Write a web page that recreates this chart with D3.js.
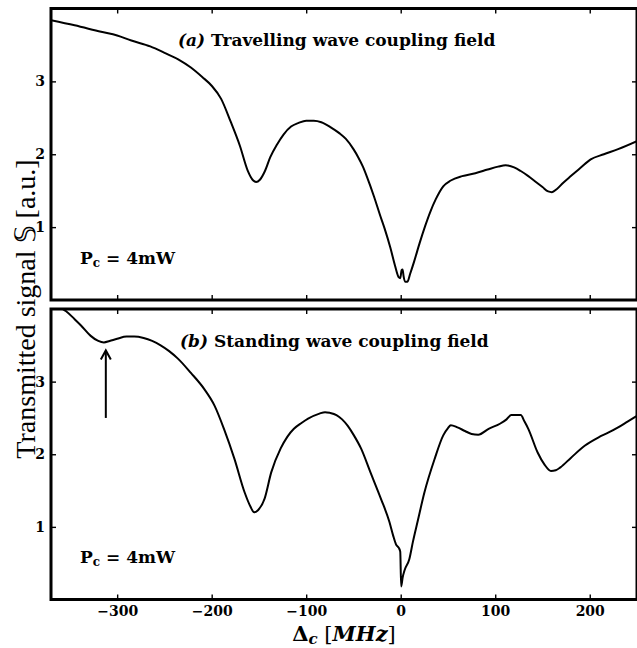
<!DOCTYPE html>
<html>
<head>
<meta charset="utf-8">
<script src="https://cdn.jsdelivr.net/npm/d3@7/dist/d3.min.js"></script>
<style>
  html, body { margin: 0; padding: 0; background: #fff; }
  svg { display: block; }
</style>
</head>
<body>
<svg id="chart" width="637" height="648"></svg>
<script>
// ---- Data ----
const xTicks = [-300, -200, -100, 0, 100, 200];
const yTicks = [1, 2, 3];
const xDomain = [-370, 250];
const yDomain = [0, 4];

// (a) travelling wave coupling field
const travX = [-370,-345,-317,-300,-285,-265,-248,-235,-222,-210,-200,-190,-180,-170,-162,-156,-153,-149,-144,-138,-131,-124,-116,-108,-100,-92,-84,-74,-65,-58,-50,-45,-40,-36,-28,-22,-17,-11,-6,-2,-0.5,1,2,3,5,7,10,14,20,26,31,37,45,53,65,79,92,103,111,120,127,135,142,150,156,160,165,172,180,190,201,215,230,250];
const travY = [3.84,3.77,3.68,3.63,3.56,3.48,3.38,3.30,3.19,3.06,2.94,2.76,2.45,2.11,1.78,1.64,1.62,1.65,1.76,1.96,2.13,2.27,2.38,2.43,2.46,2.46,2.44,2.37,2.29,2.21,2.07,1.96,1.83,1.70,1.41,1.17,0.98,0.72,0.47,0.31,0.30,0.41,0.42,0.33,0.25,0.25,0.36,0.52,0.78,1.02,1.20,1.38,1.56,1.64,1.70,1.74,1.79,1.83,1.85,1.82,1.77,1.70,1.63,1.55,1.49,1.48,1.52,1.61,1.70,1.81,1.93,2.00,2.07,2.18];

// (b) standing wave coupling field
const standX = [-370,-360,-354,-345,-338,-328,-320,-314,-308,-300,-290,-282,-272,-263,-254,-245,-236,-222,-208,-197,-187,-176,-165,-159,-155,-151,-144,-137,-127,-120,-113,-105,-98,-86,-80,-75,-68,-62,-56,-50,-42,-32,-21,-12,-8,-5,-2,-0.5,0.5,2,4,9,13,18,25,36,45,50,53,60,68,75,82,93,105,112,117,122,127,131,135,145,152,159,164,169,180,195,209,220,230,240,250];
const standY = [4.12,4.02,3.97,3.86,3.77,3.63,3.56,3.54,3.56,3.59,3.62,3.62,3.60,3.56,3.50,3.42,3.32,3.12,2.90,2.67,2.35,1.94,1.47,1.28,1.20,1.23,1.39,1.75,2.08,2.24,2.35,2.43,2.49,2.56,2.58,2.57,2.54,2.48,2.39,2.27,2.08,1.75,1.39,1.07,0.88,0.76,0.71,0.66,0.18,0.30,0.40,0.55,0.80,1.08,1.47,1.94,2.26,2.36,2.40,2.37,2.32,2.28,2.27,2.35,2.42,2.48,2.54,2.54,2.54,2.45,2.35,2.02,1.86,1.77,1.78,1.82,1.95,2.12,2.23,2.30,2.37,2.45,2.53];

const panelTitles = ["(a)", "(b)"];
const panelNames = [" Travelling wave coupling field", " Standing wave coupling field"];
const powerLabel = ["P", "c", " = 4mW"];
const arrowX = -312, arrowFrom = 2.50, arrowTo = 3.43;

// ---- Drawing ----
const svg = d3.select("#chart");
const left = 51, right = 637;
const panels = [
  { top: 8.5, bottom: 300, xs: travX, ys: travY, showX: false },
  { top: 309, bottom: 599.5, xs: standX, ys: standY, showX: true }
];
const x = d3.scaleLinear().domain(xDomain).range([left, right]);
const serifBold = "'DejaVu Serif', serif";

panels.forEach((p, i) => {
  const y = d3.scaleLinear().domain(yDomain).range([p.bottom, p.top]);
  const g = svg.append("g");
  const clipId = "clip" + i;
  svg.append("clipPath").attr("id", clipId)
    .append("rect").attr("x", left).attr("y", p.top)
    .attr("width", right - left).attr("height", p.bottom - p.top);

  const pts = p.xs.map((v, k) => [v, p.ys[k]]);
  const line = d3.line().x(d => x(d[0])).y(d => y(d[1])).curve(d3.curveMonotoneX);
  g.append("path").datum(pts).attr("d", line)
    .attr("clip-path", `url(#${clipId})`)
    .attr("fill", "none").attr("stroke", "#000").attr("stroke-width", 2)
    .attr("stroke-linejoin", "round");

  // axes (inward ticks)
  const styleAxis = sel => {
    sel.select(".domain").remove();
    sel.selectAll(".tick line").attr("stroke", "#000").attr("stroke-width", 1.4);
    sel.selectAll("text").attr("font-family", serifBold).attr("font-weight", "bold")
      .attr("font-size", 14).attr("fill", "#000");
  };
  g.append("g").attr("transform", `translate(${left},0)`)
    .call(d3.axisLeft(y).tickValues(yTicks).tickSize(-5).tickPadding(6).tickFormat(d3.format("d")))
    .call(styleAxis);
  g.append("g").attr("transform", `translate(${right},0)`)
    .call(d3.axisRight(y).tickValues(yTicks).tickSize(-5).tickFormat(""))
    .call(styleAxis);
  g.append("g").attr("transform", `translate(0,${p.top})`)
    .call(d3.axisTop(x).tickValues(xTicks).tickSize(-5).tickFormat(""))
    .call(styleAxis);
  g.append("g").attr("transform", `translate(0,${p.bottom})`)
    .call(d3.axisBottom(x).tickValues(xTicks).tickSize(-5).tickPadding(7)
      .tickFormat(p.showX ? (d => d < 0 ? "\u2212" + Math.abs(d) : String(d)) : ""))
    .call(styleAxis);

  // frame
  g.append("rect").attr("x", left).attr("y", p.top)
    .attr("width", right - left).attr("height", p.bottom - p.top)
    .attr("fill", "none").attr("stroke", "#000").attr("stroke-width", 3);

  // panel title
  const t = g.append("text").attr("x", i === 0 ? 178 : 180).attr("y", p.top + 37.5)
    .attr("font-family", serifBold).attr("font-weight", "bold").attr("font-size", 17).attr("fill", "#000");
  t.append("tspan").attr("font-style", "italic").text(panelTitles[i]);
  t.append("tspan").text(panelNames[i]);

  // power label
  const pl = g.append("text").attr("x", 80).attr("y", p.bottom - 36.5)
    .attr("font-family", serifBold).attr("font-weight", "bold").attr("font-size", 17).attr("fill", "#000");
  pl.append("tspan").text(powerLabel[0]);
  pl.append("tspan").attr("font-size", 12).attr("dy", 3).text(powerLabel[1]);
  pl.append("tspan").attr("dy", -3).text(powerLabel[2]);

  if (i === 1) {
    const ax = x(arrowX), y0 = y(arrowFrom), y1 = y(arrowTo);
    g.append("line").attr("x1", ax).attr("x2", ax).attr("y1", y0).attr("y2", y1 + 1)
      .attr("stroke", "#000").attr("stroke-width", 2);
    g.append("path").attr("d", `M${ax - 5},${y1 + 9}L${ax},${y1}L${ax + 5},${y1 + 9}`)
      .attr("fill", "none").attr("stroke", "#000").attr("stroke-width", 2)
      .attr("stroke-linejoin", "miter");
  }
});

// y label
svg.append("text")
  .attr("transform", "translate(35,309) rotate(-90)")
  .attr("text-anchor", "middle")
  .attr("font-family", "'Liberation Serif', serif").attr("font-size", 28).attr("fill", "#000")
  .text("Transmitted signal \u{1D54A} [a.u.]");

// x label
const xl = svg.append("text").attr("x", (left + right) / 2).attr("y", 641)
  .attr("text-anchor", "middle")
  .attr("font-family", "'DejaVu Serif', serif").attr("font-size", 21).attr("fill", "#000");
xl.append("tspan").attr("font-weight", "bold").text("\u0394");
xl.append("tspan").attr("font-weight", "bold").attr("font-style", "italic").attr("font-size", 15).attr("dy", 3).text("c");
xl.append("tspan").attr("dy", -3).text(" [");
xl.append("tspan").attr("font-weight", "bold").attr("font-style", "italic").text("MHz");
xl.append("tspan").text("]");
</script>
</body>
</html>
